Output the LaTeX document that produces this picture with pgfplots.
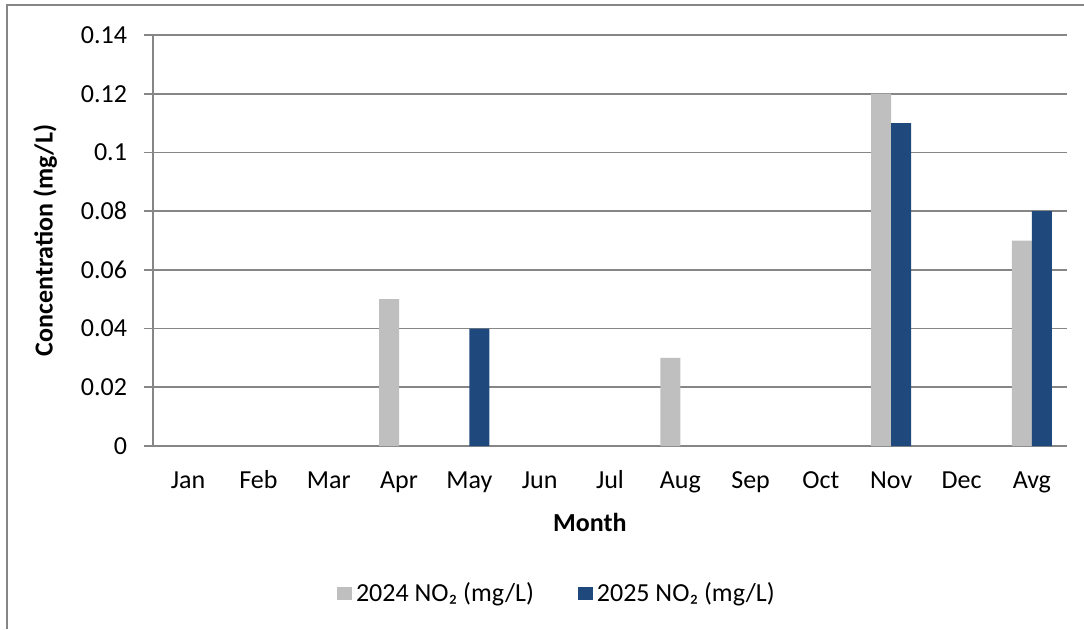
\documentclass[border=0pt]{standalone}
\usepackage{pgfplots}
\pgfplotsset{compat=1.18}
\usepackage{fontspec}
\setmainfont{Carlito}

\definecolor{gridgray}{HTML}{868686}
\definecolor{bar24}{HTML}{BFBFBF}
\definecolor{bar25}{HTML}{1F497D}

\begin{document}
\begin{tikzpicture}
\useasboundingbox (0,0) rectangle (542pt,314.5pt);
\draw[gridgray, line width=0.9pt] (3.5pt,0) -- (3.5pt,312pt) -- (542pt,312pt);
\begin{axis}[
    at={(76.5pt,91.5pt)}, anchor=south west,
    width=457pt, height=205.5pt, scale only axis,
    ybar=0pt, bar width=10pt,
    xmin=-0.5, xmax=12.5,
    ymin=0, ymax=0.14,
    xtick={0,...,12},
    xticklabels={Jan,Feb,Mar,Apr,May,Jun,Jul,Aug,Sep,Oct,Nov,Dec,Avg},
    x tick style={draw=none},
    extra x ticks={-0.5,0.5,...,12.5},
    extra x tick labels={},
    extra x tick style={grid=none, major tick length=4.5pt, tick style={draw=gridgray, line width=0.8pt}},
    ytick={0,0.02,...,0.14},
    scaled y ticks=false,
    yticklabel style={/pgf/number format/fixed, /pgf/number format/precision=2, xshift=-5pt},
    /pgf/number format/assume math mode=true,
    axis x line=bottom, axis y line=left,
    axis line style={-, draw=gridgray, line width=0.8pt},
    tick align=outside, major tick length=4.5pt,
    y tick style={draw=gridgray, line width=0.8pt},
    ymajorgrids, grid style={draw=gridgray, line width=0.8pt},
    tick label style={font=\fontsize{13}{15}\selectfont},
    xticklabel style={yshift=-4pt, text height=9pt, text depth=3pt},
    xlabel={\textbf{Month}},
    ylabel={\textbf{Concentration (mg/L)}},
    label style={font=\fontsize{13}{15}\selectfont},
    xlabel style={at={(axis description cs:0.478,-0.185)}, anchor=center},
    ylabel style={at={(axis description cs:-0.118,0.5)}, anchor=center, rotate=0},
    legend style={at={(0.443,-0.358)}, anchor=center, draw=none, legend columns=2,
        font=\fontsize{13}{15}\selectfont,
        /tikz/every even column/.append style={column sep=20pt}},
    legend image code/.code={\fill[#1] (0pt,-3.25pt) rectangle (7.5pt,3.25pt);},
]
\addplot[fill=bar24, draw=none] coordinates {(3,0.05) (7,0.03) (10,0.12) (12,0.07)};
\addplot[fill=bar25, draw=none] coordinates {(4,0.04) (10,0.11) (12,0.08)};
\legend{2024 NO₂ (mg/L), 2025 NO₂ (mg/L)}
\end{axis}
\end{tikzpicture}
\end{document}
